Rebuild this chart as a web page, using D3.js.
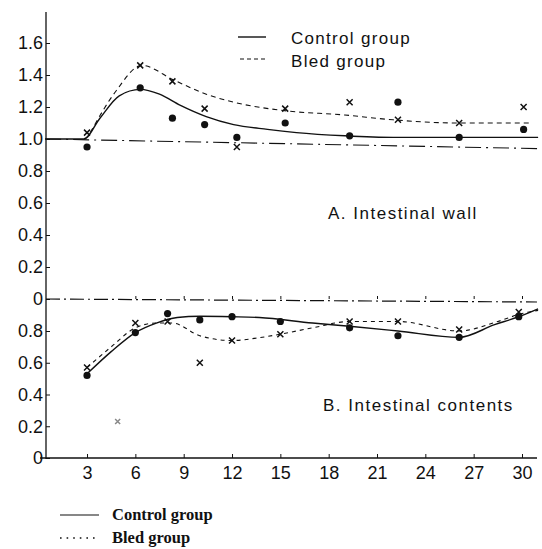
<!DOCTYPE html>
<html><head><meta charset="utf-8">
<script src="https://cdn.jsdelivr.net/npm/d3@7"></script>
<style>html,body{margin:0;padding:0;background:#fff;}svg{display:block;}</style>
</head><body>
<script>
// ---------- data ----------
const days = [3, 6.3, 8.3, 10.3, 12.3, 15.3, 19.3, 22.3, 26.1, 30.1];
// Panel A: intestinal wall
const controlA = [0.95, 1.32, 1.13, 1.09, 1.01, 1.10, 1.02, 1.23, 1.01, 1.06];
const bledA    = [1.04, 1.46, 1.36, 1.19, 0.95, 1.19, 1.23, 1.12, 1.10, 1.20];
const controlCurveDaysA = [0.4, 2.8, 3.8, 5.0, 6.3, 7.5, 8.8, 10.4, 12.1, 14.2, 16, 19, 22, 26, 31];
const controlCurveA     = [1.0, 1.0, 1.13, 1.27, 1.31, 1.28, 1.21, 1.14, 1.09, 1.06, 1.04, 1.02, 1.01, 1.01, 1.01];
const bledCurveDaysA = [3.2, 4.8, 6.4, 8.35, 10.4, 12.1, 15, 19, 22, 26, 30.5];
const bledCurveA     = [1.04, 1.30, 1.46, 1.37, 1.28, 1.23, 1.18, 1.15, 1.12, 1.10, 1.10];
const baselineDaysA = [0.4, 31];
const baselineA     = [1.0, 0.94];
// Panel B: intestinal contents
const daysB = [3, 6, 8, 10, 12, 15, 19.3, 22.3, 26.1, 29.8];
const controlB = [0.52, 0.79, 0.91, 0.87, 0.89, 0.86, 0.82, 0.77, 0.76, 0.89];
const bledB    = [0.57, 0.85, 0.86, 0.60, 0.74, 0.78, 0.86, 0.86, 0.81, 0.92];
const controlCurveDaysB = [3, 4.5, 6, 7.3, 8.6, 10, 12, 13.7, 17, 19.3, 22.3, 26.1, 28.3, 29.8, 31];
const controlCurveB     = [0.53, 0.67, 0.79, 0.85, 0.885, 0.893, 0.89, 0.885, 0.85, 0.83, 0.80, 0.76, 0.84, 0.89, 0.94];
const bledCurveDaysB = [3, 4.5, 6, 7.3, 8.3, 10, 12, 13.5, 15, 17, 19.3, 22.3, 26.1, 28.5, 30, 31];
const bledCurveB     = [0.57, 0.70, 0.82, 0.85, 0.85, 0.77, 0.74, 0.755, 0.78, 0.82, 0.86, 0.86, 0.80, 0.86, 0.91, 0.93];
const strayDaysB = [4.9];
const strayB     = [0.23];
// ticks / labels
const xTicks = [3, 6, 9, 12, 15, 18, 21, 24, 27, 30];
const yTicksA = [0, 0.2, 0.4, 0.6, 0.8, 1.0, 1.2, 1.4, 1.6];
const yTicksB = [0, 0.2, 0.4, 0.6, 0.8];
const legendTop = ["Control group", "Bled group"];
const legendBottom = ["Control group", "Bled group"];
const panelTitles = ["A. Intestinal wall", "B. Intestinal contents"];

// ---------- drawing ----------
const W = 542, H = 549;
const ink = "#111";
const svg = d3.select("body").append("svg").attr("width", W).attr("height", H);

const x = d3.scaleLinear().domain([0, 30]).range([38.7, 522]);
const yA = d3.scaleLinear().domain([0, 1.6]).range([299, 43]);
const yB = d3.scaleLinear().domain([0, 0.8]).range([458, 331]);
const axisX = 46;
const sans = "'Liberation Sans', Arial, sans-serif";
const fmt = v => v === 0 ? "0" : d3.format(".1f")(v);

// y axis line
svg.append("line").attr("x1", axisX).attr("x2", axisX).attr("y1", 12).attr("y2", 459)
  .attr("stroke", ink).attr("stroke-width", 1.3);

function yAxis(scale, ticks) {
  const g = svg.append("g").attr("transform", `translate(${axisX},0)`)
    .call(d3.axisLeft(scale).tickValues(ticks).tickFormat(fmt).tickSize(-4).tickPadding(3));
  g.select(".domain").remove();
  g.selectAll(".tick line").attr("stroke", ink).attr("stroke-width", 1);
  g.selectAll(".tick text").attr("fill", ink).style("font-family", sans).style("font-size", "18px");
  return g;
}
yAxis(yA, yTicksA);
yAxis(yB, yTicksB.filter(v => v !== 0));
// bottom zero label of panel B
const gB0 = yAxis(yB, [0]);

// bottom x axis
svg.append("line").attr("x1", 40).attr("x2", 537).attr("y1", yB(0)).attr("y2", yB(0))
  .attr("stroke", ink).attr("stroke-width", 1.3);
const gx = svg.append("g").attr("transform", `translate(0,${yB(0)})`)
  .call(d3.axisBottom(x).tickValues(xTicks).tickSize(-4).tickPadding(8));
gx.select(".domain").remove();
gx.selectAll(".tick line").attr("stroke", ink);
gx.selectAll(".tick text").attr("fill", ink).style("font-family", sans).style("font-size", "18px");

// middle zero line (panel A zero / panel B top)
svg.append("line").attr("x1", axisX).attr("x2", 537).attr("y1", yA(0)).attr("y2", yA(0) + 3)
  .attr("stroke", ink).attr("stroke-width", 1.2).attr("stroke-dasharray", "14,4,2,4");
const gm = svg.append("g").attr("transform", `translate(0,${yA(0)})`)
  .call(d3.axisBottom(x).tickValues(xTicks.slice(1)).tickSize(-3).tickFormat(""));
gm.select(".domain").remove();
gm.selectAll(".tick line").attr("stroke", ink);

// baseline (dash-dot) in panel A
const lineA = d3.line().x(d => x(d[0])).y(d => yA(d[1]));
const lineB = d3.line().x(d => x(d[0])).y(d => yB(d[1]));
svg.append("path").datum(d3.zip(baselineDaysA, baselineA)).attr("d", lineA)
  .attr("fill", "none").attr("stroke", ink).attr("stroke-width", 1.1).attr("stroke-dasharray", "16,5,2,5");

// curves
function curve(daysArr, vals, lineGen, dash, sw) {
  svg.append("path").datum(d3.zip(daysArr, vals))
    .attr("d", lineGen.curve(d3.curveMonotoneX))
    .attr("fill", "none").attr("stroke", ink).attr("stroke-width", sw)
    .attr("stroke-dasharray", dash);
}
curve(controlCurveDaysA, controlCurveA, lineA, null, 1.4);
curve(bledCurveDaysA, bledCurveA, lineA, "5,4", 1.1);
curve(controlCurveDaysB, controlCurveB, lineB, null, 1.4);
curve(bledCurveDaysB, bledCurveB, lineB, "4,4", 1.1);

// markers
function dots(dx, vals, scale) {
  svg.append("g").selectAll("circle").data(d3.zip(dx, vals)).join("circle")
    .attr("cx", d => x(d[0])).attr("cy", d => scale(d[1])).attr("r", 3.6).attr("fill", ink);
}
function crosses(dx, vals, scale, s, col) {
  svg.append("g").selectAll("path").data(d3.zip(dx, vals)).join("path")
    .attr("d", d => {
      const cx = x(d[0]), cy = scale(d[1]);
      return `M${cx - s},${cy - s}L${cx + s},${cy + s}M${cx + s},${cy - s}L${cx - s},${cy + s}`;
    })
    .attr("stroke", col || ink).attr("stroke-width", 1.5).attr("fill", "none");
}
dots(days, controlA, yA);
crosses(days, bledA, yA, 3);
dots(daysB, controlB, yB);
crosses(daysB, bledB, yB, 3);
crosses(strayDaysB, strayB, yB, 2.5, "#888");

// top legend
const lgT = svg.append("g");
lgT.append("line").attr("x1", 238).attr("x2", 266).attr("y1", 37).attr("y2", 37)
  .attr("stroke", ink).attr("stroke-width", 1.4);
lgT.append("line").attr("x1", 240).attr("x2", 266).attr("y1", 59).attr("y2", 59)
  .attr("stroke", ink).attr("stroke-width", 1.1).attr("stroke-dasharray", "4,3");
lgT.selectAll("text").data(legendTop).join("text")
  .attr("x", 291).attr("y", (d, i) => 44 + i * 23)
  .text(d => d).attr("fill", ink)
  .style("font-family", sans).style("font-size", "17px").style("letter-spacing", "1.3px");

// panel titles
svg.append("text").attr("x", 328).attr("y", 219).text(panelTitles[0]).attr("fill", ink)
  .style("font-family", sans).style("font-size", "17px").style("letter-spacing", "1.5px");
svg.append("text").attr("x", 323).attr("y", 411).text(panelTitles[1]).attr("fill", ink)
  .style("font-family", sans).style("font-size", "17px").style("letter-spacing", "1.5px");

// bottom legend
const serif = "'Liberation Serif', 'Times New Roman', serif";
svg.append("line").attr("x1", 60).attr("x2", 99).attr("y1", 515).attr("y2", 515)
  .attr("stroke", ink).attr("stroke-width", 1.2);
svg.append("line").attr("x1", 60).attr("x2", 99).attr("y1", 538).attr("y2", 538)
  .attr("stroke", ink).attr("stroke-width", 1.6).attr("stroke-dasharray", "1.6,5");
svg.append("g").selectAll("text").data(legendBottom).join("text")
  .attr("x", 112).attr("y", (d, i) => 520 + i * 23).text(d => d).attr("fill", ink)
  .style("font-family", serif).style("font-size", "16.5px").style("font-weight", "bold");
</script>
</body></html>
